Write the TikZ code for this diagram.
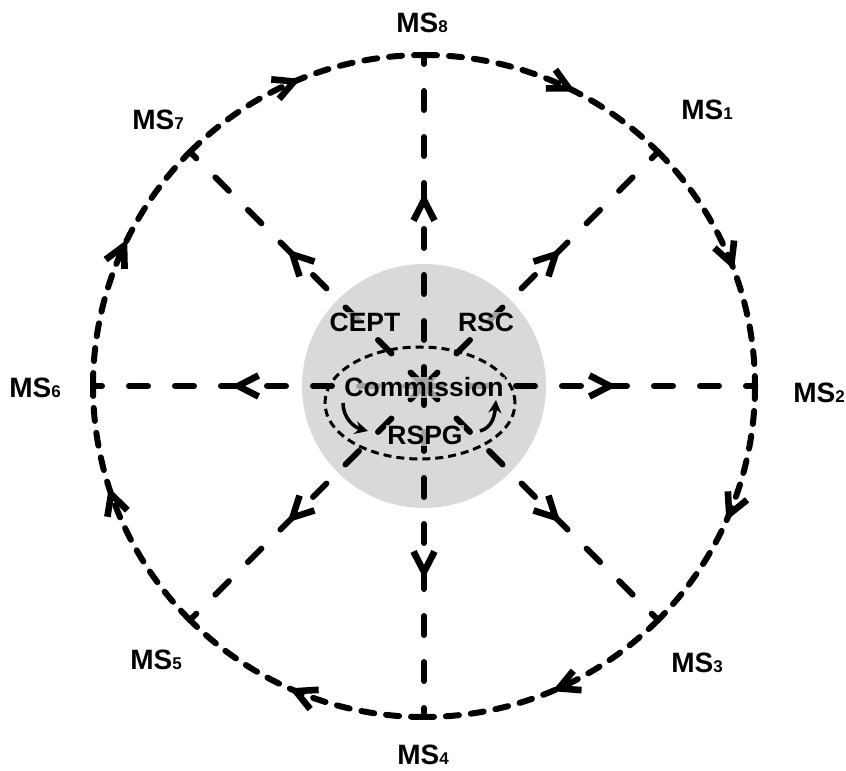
\documentclass[tikz,border=0pt]{standalone}
\usepackage{fontspec}
\setmainfont{Liberation Sans}
\usetikzlibrary{arrows.meta,decorations.markings}
\newdimen\unitsize
\setlength{\unitsize}{1pt}
\newcommand{\ms}[1]{MS{\fontsize{17}{17}\selectfont #1}}

\begin{document}
\begin{tikzpicture}[x=\unitsize,y=\unitsize]
\tikzset{spoke/.style={line width=6pt, line cap=round, dash pattern=on 19pt off 27pt}}%
\tikzset{ring/.style={line width=6pt, line cap=round, dash pattern=on 13pt off 12pt}}%
\tikzset{midtip/.style={postaction={decorate},decoration={markings,mark=at position #1 with {\fill (1pt,0pt) -- (-25pt,13.5pt) -- (-28pt,7.5pt) -- (-13pt,0pt) -- (-28pt,-7.5pt) -- (-25pt,-13.5pt) -- cycle;}}}}%
\tikzset{lab/.style={font=\fontsize{28}{28}\selectfont\bfseries, anchor=base, inner sep=0pt}}%
\tikzset{core/.style={font=\fontsize{26.5}{26.5}\selectfont\bfseries, anchor=base, inner sep=1pt, fill=gray!30, fill opacity=0.75, text opacity=1}}%
\useasboundingbox (0,0) rectangle (846,771);
\coordinate (c) at (424,385);
\fill[gray!30] (c) circle (122);
\path (c) ++(45:331) coordinate (p1);
\path (c) ++(0:331) coordinate (p2);
\path (c) ++(-45:331) coordinate (p3);
\path (c) ++(-90:331) coordinate (p4);
\path (c) ++(-135:331) coordinate (p5);
\path (c) ++(180:331) coordinate (p6);
\path (c) ++(135:331) coordinate (p7);
\path (c) ++(90:331) coordinate (p8);
% spokes
\draw[spoke, midtip=0.58] (c) -- (p1);
\draw[spoke, midtip=0.58] (c) -- (p2);
\draw[spoke, midtip=0.58] (c) -- (p3);
\draw[spoke, midtip=0.58] (c) -- (p4);
\draw[spoke, midtip=0.58] (c) -- (p5);
\draw[spoke, midtip=0.58] (c) -- (p6);
\draw[spoke, midtip=0.58] (c) -- (p7);
\draw[spoke, midtip=0.58] (c) -- (p8);
% centre
\draw[line width=3pt, dash pattern=on 8pt off 5pt] (420,368) ellipse [x radius=95, y radius=56];
\node[core] (cept) at (365,439) {CEPT};
\node[core] (rsc) at (486,439) {RSC};
\node[core] (comm) at (424,374) {Commission};
\node[core] (rspg) at (425,326) {RSPG};
\coordinate (la) at (343,368);
\coordinate (lb) at (368,340);
\coordinate (ra) at (480,340);
\coordinate (rb) at (496,371);
\draw[line width=3.5pt, -{Stealth[length=13pt,width=13pt]}] (la) to[out=-90,in=165] (lb);
\draw[line width=3.5pt, -{Stealth[length=13pt,width=13pt]}] (ra) to[out=15,in=-95] (rb);
% ring
\draw[ring, midtip=0.6] (p8) arc[start angle=90, end angle=45, radius=331];
\draw[ring, midtip=0.54] (p1) arc[start angle=45, end angle=0, radius=331];
\draw[ring, midtip=0.53] (p2) arc[start angle=0, end angle=-45, radius=331];
\draw[ring, midtip=0.49] (p3) arc[start angle=-45, end angle=-90, radius=331];
\draw[ring, midtip=0.53] (p4) arc[start angle=-90, end angle=-135, radius=331];
\draw[ring, midtip=0.6] (p5) arc[start angle=225, end angle=180, radius=331];
\draw[ring, midtip=0.58] (p6) arc[start angle=180, end angle=135, radius=331];
\draw[ring, midtip=0.51] (p7) arc[start angle=135, end angle=90, radius=331];
% member states
\node[lab] (ms8) at (422,738) {\ms{8}};
\node[lab] (ms1) at (707,651) {\ms{1}};
\node[lab] (ms2) at (819,368) {\ms{2}};
\node[lab] (ms3) at (697,98) {\ms{3}};
\node[lab] (ms4) at (423,6) {\ms{4}};
\node[lab] (ms5) at (156,101) {\ms{5}};
\node[lab] (ms6) at (35,373) {\ms{6}};
\node[lab] (ms7) at (158,641) {\ms{7}};
\end{tikzpicture}
\end{document}
